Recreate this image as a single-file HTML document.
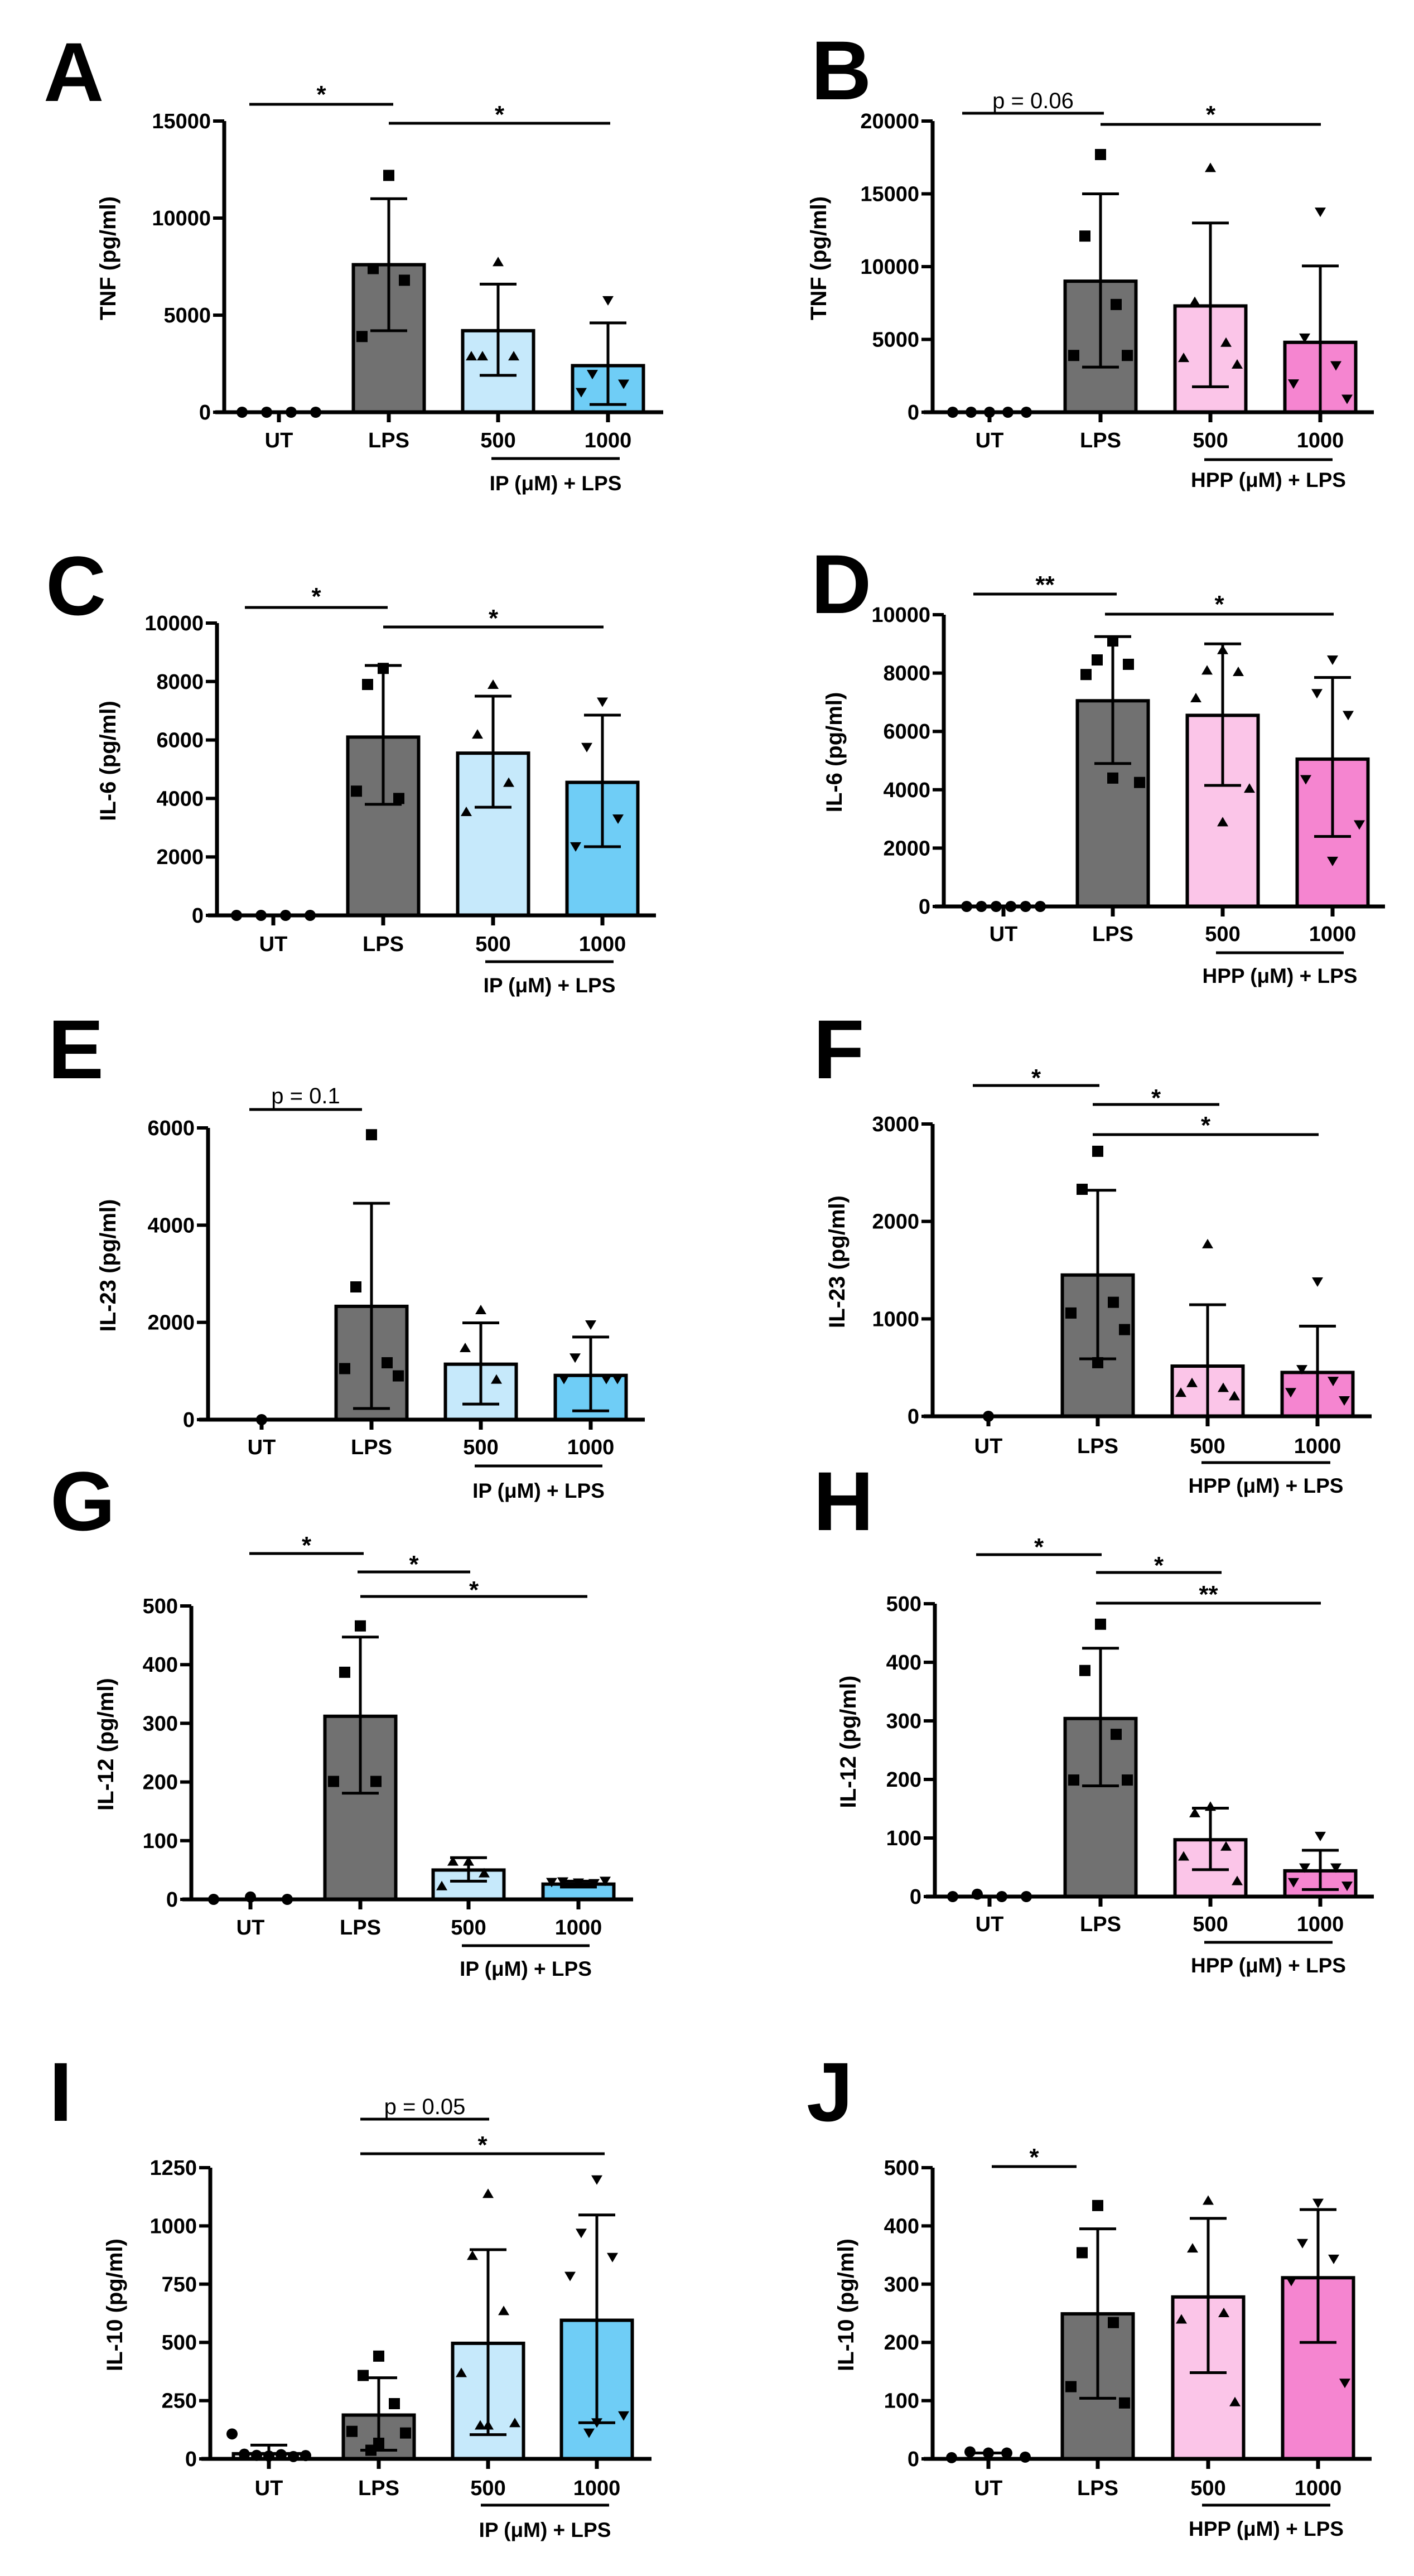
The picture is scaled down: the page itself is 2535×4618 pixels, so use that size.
<!DOCTYPE html>
<html><head><meta charset="utf-8">
<style>
html,body{margin:0;padding:0;background:#fff;}
svg{display:block;font-family:"Liberation Sans",Arial,sans-serif;}
</style></head>
<body>
<svg id="fig" width="2535" height="4618" viewBox="0 0 2535 4618" xmlns="http://www.w3.org/2000/svg"></svg>
<script>
// ---- DATA ----
const cats = ["UT","LPS","500","1000"];
const A_ticks=[0,5000,10000,15000];
const A_means=[0,7600,4200,2400];
const A_sdUp=[0,11000,6600,4600];
const A_sdLo=[0,4200,1900,400];
const A_pts=[[0,0,0,0],[12200,7400,6800,3900],[7750,2900,2900,2900],[5750,1950,1450,1020]];
const B_ticks=[0,5000,10000,15000,20000];
const B_means=[0,9000,7300,4800];
const B_sdUp=[0,15000,13000,10050];
const B_sdLo=[0,3100,1750,0];
const B_pts=[[0,0,0,0,0],[17700,12100,7400,3900,3900],[16800,7600,4800,3750,3300],[13750,5100,3200,1950,900]];
const C_ticks=[0,2000,4000,6000,8000,10000];
const C_means=[0,6100,5550,4550];
const C_sdUp=[0,8550,7500,6850];
const C_sdLo=[0,3800,3700,2350];
const C_pts=[[0,0,0,0],[8450,7900,4000,4250],[7900,6200,4550,3550],[7300,5750,3300,2350]];
const D_ticks=[0,2000,4000,6000,8000,10000];
const D_means=[0,7050,6550,5050];
const D_sdUp=[0,9250,9000,7850];
const D_sdLo=[0,4900,4150,2400];
const D_pts=[[0,0,0,0,0,0],[9100,8450,8300,7950,4250,4400],[8800,8100,8050,7150,4050,2900],[8450,7300,6550,4350,2800,1550]];
const E_ticks=[0,2000,4000,6000];
const E_means=[0,2330,1140,910];
const E_sdUp=[0,4450,1990,1700];
const E_sdLo=[0,230,320,180];
const E_pts=[[0],[5860,2730,1170,1050,900],[2260,1480,830],[1950,1270,830,830,830]];
const F_ticks=[0,1000,2000,3000];
const F_means=[0,1450,515,450];
const F_sdUp=[0,2320,1145,925];
const F_sdLo=[0,590,0,0];
const F_pts=[[0],[2720,2330,1170,1060,890,550],[1770,345,295,245,210],[1380,480,360,245,160]];
const G_ticks=[0,100,200,300,400,500];
const G_means=[0,312,50,26];
const G_sdUp=[0,447,71,31];
const G_sdLo=[0,181,31,21];
const G_pts=[[0,4,0],[466,387,201,201],[65,65,45,23],[28,30,27,29,31]];
const H_ticks=[0,100,200,300,400,500];
const H_means=[0,304,97,44];
const H_sdUp=[0,424,151,79];
const H_sdLo=[0,189,46,12];
const H_pts=[[0,4,0,0],[465,386,277,199,199],[154,143,86,69,27],[103,49,49,24,18]];
const I_ticks=[0,250,500,750,1000,1250];
const I_means=[0,188,496,595];
const I_sdUp=[0,348,898,1047];
const I_sdLo=[0,37,104,155];
const I_pts=[[107,20,15,12,18,10,14],[441,358,237,118,111,67,37],[1139,873,636,370,155,145,145],[1198,969,865,784,185,155,111]];
const I_utMean=22, I_utUp=59;
const J_ticks=[0,100,200,300,400,500];
const J_means=[4,249,278,311];
const J_sdUp=[10,395,413,428];
const J_sdLo=[0,104,148,200];
const J_pts=[[2,12,10,10,3],[435,354,234,124,96],[444,362,251,240,98],[439,370,343,305,130]];

// ---- LAYOUT ----
const IPc=["#c6e9fb","#6fcdf6"], HPc=["#fbc5e8","#f585d0"];
const panels=[
 {id:"a",L:"A",lx:78,ly:181,ax:402,top:217,zero:739,xe:1189,cx:[500,697,893,1090],ticks:A_ticks,m:A_means,up:A_sdUp,lo:A_sdLo,p:A_pts,col:IPc,yl:"TNF (pg/ml)",ylx:193,grp:"IP (\u03bcM) + LPS",cl:789,gy:822,gx:[881,1111],gl:866,
  sig:[{x1:447,x2:705,y:187,t:"*",ty:163},{x1:697,x2:1094,y:221,t:"*",ty:199}]},
 {id:"b",L:"B",lx:1454,ly:178,ax:1672,top:217,zero:739,xe:2463,cx:[1774,1973,2170,2367],ticks:B_ticks,m:B_means,up:B_sdUp,lo:B_sdLo,p:B_pts,col:HPc,yl:"TNF (pg/ml)",ylx:1467,grp:"HPP (\u03bcM) + LPS",cl:789,gy:824,gx:[2159,2389],gl:860,
  sig:[{x1:1725,x2:1979,y:203,t:"p = 0.06",ty:181},{x1:1973,x2:2368,y:223,t:"*",ty:199}]},
 {id:"c",L:"C",lx:82,ly:1102,ax:389,top:1117,zero:1641,xe:1176,cx:[490,687,884,1080],ticks:C_ticks,m:C_means,up:C_sdUp,lo:C_sdLo,p:C_pts,col:IPc,yl:"IL-6 (pg/ml)",ylx:193,grp:"IP (\u03bcM) + LPS",cl:1692,gy:1724,gx:[870,1100],gl:1766,
  sig:[{x1:439,x2:695,y:1089,t:"*",ty:1063},{x1:687,x2:1082,y:1124,t:"*",ty:1102}]},
 {id:"d",L:"D",lx:1454,ly:1099,ax:1692,top:1102,zero:1625,xe:2483,cx:[1799,1995,2192,2389],ticks:D_ticks,m:D_means,up:D_sdUp,lo:D_sdLo,p:D_pts,col:HPc,yl:"IL-6 (pg/ml)",ylx:1495,grp:"HPP (\u03bcM) + LPS",cl:1674,gy:1708,gx:[2180,2409],gl:1749,
  sig:[{x1:1745,x2:2002,y:1065,t:"**",ty:1042},{x1:1981,x2:2391,y:1101,t:"*",ty:1077}]},
 {id:"e",L:"E",lx:86,ly:1933,ax:373,top:2022,zero:2545,xe:1156,cx:[469,666,862,1059],ticks:E_ticks,m:E_means,up:E_sdUp,lo:E_sdLo,p:E_pts,col:IPc,yl:"IL-23 (pg/ml)",ylx:193,grp:"IP (\u03bcM) + LPS",cl:2594,gy:2628,gx:[851,1080],gl:2672,
  sig:[{x1:447,x2:649,y:1989,t:"p = 0.1",ty:1965}]},
 {id:"f",L:"F",lx:1458,ly:1933,ax:1672,top:2015,zero:2539,xe:2459,cx:[1772,1968,2165,2362],ticks:F_ticks,m:F_means,up:F_sdUp,lo:F_sdLo,p:F_pts,col:HPc,yl:"IL-23 (pg/ml)",ylx:1500,grp:"HPP (\u03bcM) + LPS",cl:2592,gy:2622,gx:[2154,2385],gl:2663,
  sig:[{x1:1744,x2:1971,y:1946,t:"*",ty:1926},{x1:1959,x2:2186,y:1980,t:"*",ty:1962},{x1:1959,x2:2364,y:2034,t:"*",ty:2011}]},
 {id:"g",L:"G",lx:90,ly:2743,ax:343,top:2879,zero:3405,xe:1135,cx:[449,646,840,1037],ticks:G_ticks,m:G_means,up:G_sdUp,lo:G_sdLo,p:G_pts,col:IPc,yl:"IL-12 (pg/ml)",ylx:189,grp:"IP (\u03bcM) + LPS",cl:3455,gy:3488,gx:[828,1057],gl:3529,
  sig:[{x1:447,x2:652,y:2785,t:"*",ty:2764},{x1:641,x2:843,y:2818,t:"*",ty:2798},{x1:646,x2:1053,y:2862,t:"*",ty:2844}]},
 {id:"h",L:"H",lx:1458,ly:2743,ax:1676,top:2875,zero:3400,xe:2463,cx:[1774,1973,2170,2367],ticks:H_ticks,m:H_means,up:H_sdUp,lo:H_sdLo,p:H_pts,col:HPc,yl:"IL-12 (pg/ml)",ylx:1520,grp:"HPP (\u03bcM) + LPS",cl:3449,gy:3482,gx:[2159,2389],gl:3523,
  sig:[{x1:1750,x2:1975,y:2787,t:"*",ty:2767},{x1:1965,x2:2190,y:2819,t:"*",ty:2800},{x1:1965,x2:2368,y:2874,t:"**",ty:2852}]},
 {id:"i",L:"I",lx:88,ly:3802,ax:377,top:3886,zero:4408,xe:1168,cx:[482,679,875,1070],ticks:I_ticks,m:[I_utMean,I_means[1],I_means[2],I_means[3]],up:[I_utUp,I_sdUp[1],I_sdUp[2],I_sdUp[3]],lo:I_sdLo,p:I_pts,col:IPc,yl:"IL-10 (pg/ml)",ylx:205,grp:"IP (\u03bcM) + LPS",cl:4460,gy:4491,gx:[862,1092],gl:4535,
  sig:[{x1:646,x2:877,y:3799,t:"p = 0.05",ty:3777},{x1:646,x2:1084,y:3861,t:"*",ty:3839}]},
 {id:"j",L:"J",lx:1446,ly:3802,ax:1672,top:3886,zero:4408,xe:2459,cx:[1772,1968,2166,2363],ticks:J_ticks,m:J_means,up:J_sdUp,lo:J_sdLo,p:J_pts,col:HPc,yl:"IL-10 (pg/ml)",ylx:1516,grp:"HPP (\u03bcM) + LPS",cl:4460,gy:4491,gx:[2155,2385],gl:4533,
  sig:[{x1:1778,x2:1930,y:3884,t:"*",ty:3861}]}
];
const NS="http://www.w3.org/2000/svg";
const svg=document.getElementById("fig");
function el(tag,attrs,parent){const e=document.createElementNS(NS,tag);for(const k in attrs)e.setAttribute(k,attrs[k]);(parent||svg).appendChild(e);return e;}
const BW=127, CAP=33, MS=10;
panels.forEach(P=>{
  const g=el("g",{});
  
  
  const max=P.ticks[P.ticks.length-1];
  const y=v=>P.zero-(Math.max(v,0)/max)*(P.zero-P.top);
  const L=el("text",{x:P.lx,y:P.ly,"font-size":150,"font-weight":"bold",fill:"#000"},g);L.textContent=P.L;
  
  
  const fills=["#fff","#717171",P.col[0],P.col[1]];
  P.m.forEach((mv,i)=>{
    if(i===0&&mv<=5) return;
    const r=el("rect",{x:P.cx[i]-BW/2,y:y(mv),width:BW,height:P.zero-y(mv),fill:fills[i],stroke:"#000","stroke-width":6},g);
    
    
  });
  const tri=(x,yy,up)=>up?`${x-MS},${yy+MS*0.8} ${x+MS},${yy+MS*0.8} ${x},${yy-MS*0.9}`:`${x-MS},${yy-MS*0.8} ${x+MS},${yy-MS*0.8} ${x},${yy+MS*0.9}`;
  P.p.forEach((arr,i)=>{
    const n=arr.length;
    arr.forEach((v,k)=>{
      let dx;
      if(i===0){dx=n>1?(-66+132*k/(n-1)):0;}
      else {const pat=[0,-28,28,-48,48,0,-14];dx=pat[k%pat.length];}
      const x=P.cx[i]+dx, yy=y(v);
      let m;
      if(i===0) m=el("circle",{cx:x,cy:yy,r:MS,fill:"#000"},g);
      else if(i===1) m=el("rect",{x:x-MS,y:yy-MS,width:2*MS,height:2*MS,fill:"#000"},g);
      else m=el("polygon",{points:tri(x,yy,i===2),fill:"#000"},g);
      
      
    });
  });
  P.m.forEach((mv,i)=>{
    if(P.up[i]<=mv) return;
    const yu=y(P.up[i]), yl=y(P.lo[i]);
    const eb=el("path",{d:`M${P.cx[i]},${yu}V${yl}M${P.cx[i]-CAP},${yu}H${P.cx[i]+CAP}`+(P.lo[i]>0?`M${P.cx[i]-CAP},${yl}H${P.cx[i]+CAP}`:""),stroke:"#000","stroke-width":5,fill:"none"},g);
    
    
  });
  const ya=el("path",{d:`M${P.ax},${P.top}V${P.zero}`,stroke:"#000","stroke-width":7,fill:"none"},g);
  
  
  const xa=el("path",{d:`M${P.ax-16},${P.zero}H${P.xe}`+P.cx.map(c=>`M${c},${P.zero}v18`).join(""),stroke:"#000","stroke-width":7,fill:"none"},g);
  
  
  P.ticks.forEach(t=>{
    const ty=y(t);
    el("path",{d:`M${P.ax-20},${ty}H${P.ax}`,stroke:"#000","stroke-width":6},g);
    const tl=el("text",{x:P.ax-24,y:ty+13,"font-size":38,"font-weight":"bold","text-anchor":"end"},g);
    tl.textContent=t;
    
    
  });
  cats.forEach((c,i)=>{
    const t=el("text",{x:P.cx[i],y:P.cl+13,"font-size":38,"font-weight":"bold","text-anchor":"middle"},g);
    t.textContent=c;
    
    
  });
  const cy=(P.top+P.zero)/2-15;
  const yt=el("text",{x:0,y:0,"font-size":40,"font-weight":"bold","text-anchor":"middle",transform:`translate(${P.ylx+14},${cy}) rotate(-90)`},g);
  yt.textContent=P.yl;
  
  
  const gl=el("path",{d:`M${P.gx[0]},${P.gy}H${P.gx[1]}`,stroke:"#000","stroke-width":5},g);
  
  
  const gt=el("text",{x:(P.gx[0]+P.gx[1])/2,y:P.gl+13,"font-size":37,"font-weight":"bold","text-anchor":"middle"},g);
  gt.textContent=P.grp;
  
  
  P.sig.forEach(s=>{
    const sl=el("path",{d:`M${s.x1},${s.y}H${s.x2}`,stroke:"#000","stroke-width":5},g);
    
    
    const isP=s.t.startsWith("p");
    const st=el("text",{x:(s.x1+s.x2)/2,y:s.ty+(isP?13:21),"font-size":isP?40:44,"font-weight":isP?"normal":"bold","text-anchor":"middle"},g);
    st.textContent=s.t;
    
    
  });
});
</script>
</body></html>
